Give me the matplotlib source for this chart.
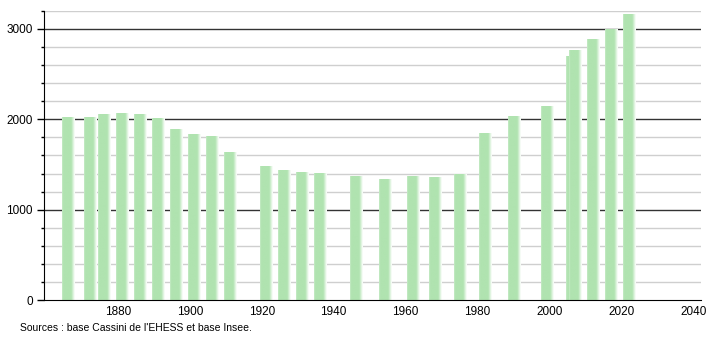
import numpy as np
import matplotlib
matplotlib.use("Agg")
import matplotlib.pyplot as plt
from matplotlib.colors import LinearSegmentedColormap

years = [1866, 1872, 1876, 1881, 1886, 1891, 1896, 1901, 1906, 1911,
         1921, 1926, 1931, 1936, 1946, 1954, 1962, 1968, 1975, 1982,
         1990, 1999, 2006, 2007, 2012, 2017, 2022]
population = [2025, 2024, 2055, 2066, 2055, 2015, 1898, 1843, 1810, 1644,
              1489, 1441, 1423, 1412, 1375, 1342, 1368, 1357, 1394, 1854,
              2031, 2142, 2695, 2769, 2891, 3001, 3167]
xticks = [1880, 1900, 1920, 1940, 1960, 1980, 2000, 2020, 2040]
yticks = [0, 1000, 2000, 3000]
source_text = "Sources : base Cassini de l'EHESS et base Insee."

plt.rcParams['font.family'] = ['Liberation Sans', 'DejaVu Sans']

fig = plt.figure(figsize=(7.1, 3.4), dpi=100)
ax = fig.add_axes([0.062, 0.1168, 0.925, 0.8517])
ax.set_xlim(1859.5, 2042)
ax.set_ylim(0, 3200)

# grid
for v in np.arange(200, 3201, 200):
    if v % 1000 == 0:
        ax.axhline(v, color='#333333', lw=1.0, zorder=0)
    else:
        ax.axhline(v, color='#cfcfcf', lw=1.0, zorder=0)

cmap = LinearSegmentedColormap.from_list(
    'bar', [(0.0, '#c8ecc8'), (0.1, '#b0e3b0'), (0.72, '#b0e3b0'), (1.0, '#ffffff')])
grad = np.linspace(0, 1, 64).reshape(1, -1)

bar_w = 3.4
lefts = [y - 1.5 for y in years]
bars = ax.bar(lefts, population, width=bar_w, align='edge',
              color='none', edgecolor='none', zorder=2)
for i, b in enumerate(bars):
    x0 = b.get_x()
    h = b.get_height()
    im = ax.imshow(grad, cmap=cmap, aspect='auto',
                   extent=(x0, x0 + bar_w, 0, h), zorder=2 + i * 0.01,
                   interpolation='bilinear')
    im.set_clip_path(b)
ax.set_xlim(1859.5, 2042)
ax.set_ylim(0, 3200)

for s in ['top', 'right']:
    ax.spines[s].set_visible(False)
ax.spines['left'].set_color('black')
ax.spines['bottom'].set_color('black')
ax.spines['left'].set_zorder(5)
ax.spines['bottom'].set_zorder(5)

ax.set_yticks(yticks)
ax.set_yticks(np.arange(0, 3201, 200), minor=True)
ax.tick_params(axis='y', which='major', length=5, width=1, labelsize=8.5, pad=3)
ax.tick_params(axis='y', which='minor', length=2, width=1)
ax.set_xticks(xticks)
ax.tick_params(axis='x', which='both', length=0, labelsize=8.5, pad=4)

fig.text(20 / 710, 1 - 328 / 340, source_text, fontsize=7.5, va='center', ha='left')

fig.savefig('out.png', dpi=100)
